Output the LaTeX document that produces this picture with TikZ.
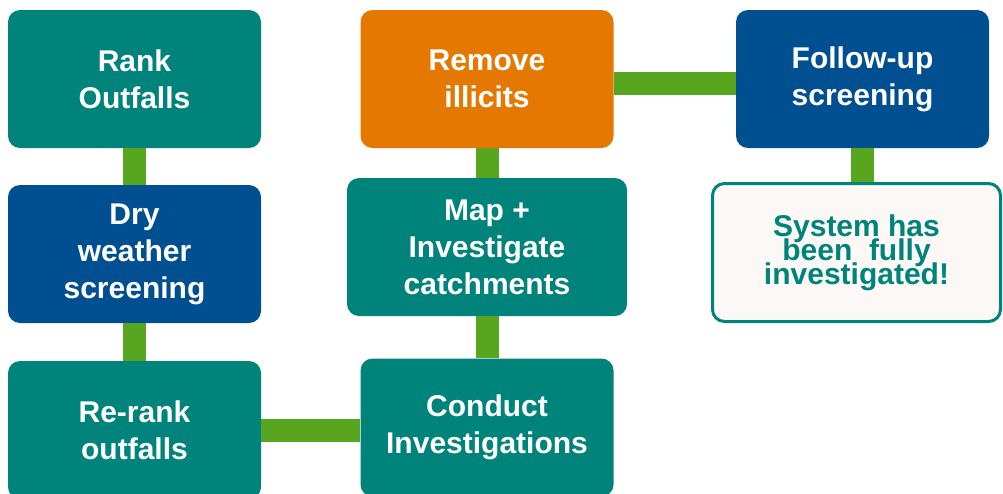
\documentclass[tikz,border=0pt]{standalone}
\usepackage{fontspec}
\setmainfont{Liberation Sans}
\usepackage{tikz}
\usetikzlibrary{positioning}
\definecolor{tealbox}{HTML}{00837A}
\definecolor{bluebox}{HTML}{004F91}
\definecolor{orangebox}{HTML}{E57800}
\definecolor{linkgreen}{HTML}{58A51F}
\definecolor{donefill}{HTML}{FBF8F6}
\newcommand\tightlines{\fontsize{30}{24}\selectfont\lineskiplimit -30pt\lineskip 0pt\relax}
\tikzset{
  stepbox/.style={rounded corners=12pt, fill=tealbox, text=white, minimum width=253pt, minimum height=138pt, align=center, font=\fontsize{30}{37}\selectfont\bfseries},
  screenbox/.style={stepbox, fill=bluebox},
  actionbox/.style={stepbox, fill=orangebox},
  donebox/.style={draw=tealbox, line width=3pt, rounded corners=12pt, fill=donefill, text=tealbox, minimum width=288pt, minimum height=138pt, align=center, font=\tightlines\bfseries},
  link/.style={draw=linkgreen, line width=23pt}
}

\begin{document}
\begin{tikzpicture}[x=1pt, y=-1pt]
  \useasboundingbox (0,0) rectangle (1003,493);
  \node[stepbox] (rank) at (134.5,79) {Rank\\Outfalls};
  \node[screenbox] (dry) at (134.5,254) {Dry\\weather\\screening};
  \node[stepbox] (rerank) at (134.5,430) {Re-rank\\outfalls};
  \node[stepbox] (conduct) at (487,427.5) {Conduct\\Investigations};
  \node[stepbox, minimum width=280pt] (map) at (487,247) {Map +\\Investigate\\catchments};
  \node[actionbox] (remove) at (487,79) {Remove\\illicits};
  \node[screenbox] (follow) at (862.5,79) {Follow-up\\screening};
  \node[donebox] (done) at (856.5,252.5) {System has\\been\ \ fully\\investigated!};
  \draw[link] (rank) -- (dry);
  \draw[link] (dry) -- (rerank);
  \draw[link] (rerank.east) -- (rerank.east -| conduct.west);
  \draw[link] ([yshift=-4pt]remove.east) -- ([yshift=-4pt]follow.west);
  \draw[link] (conduct) -- (map);
  \draw[link] (map) -- (remove);
  \draw[link] (follow.south) -- (follow.south |- done.north);
\end{tikzpicture}
\end{document}
